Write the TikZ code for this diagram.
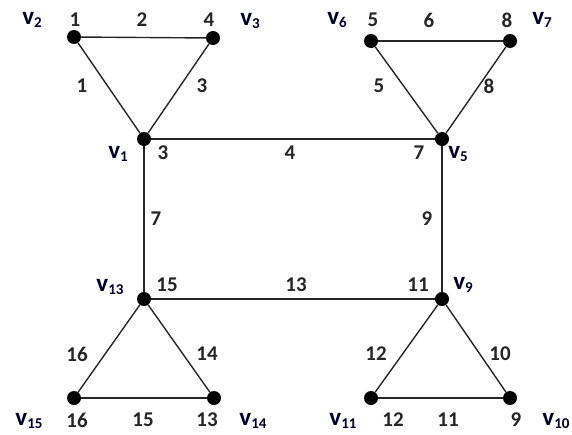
\documentclass[tikz,border=0pt]{standalone}
\usepackage{fontspec}
\setmainfont{Carlito}
\newcommand{\vsub}[2]{v\raisebox{-0.3ex}{\fontsize{15}{17}\selectfont\bfseries #2}}
\begin{document}
\begin{tikzpicture}[x=1pt,y=-1pt,
  vtx/.style={circle,fill=black,inner sep=0pt,minimum size=14pt},
  edge/.style={line width=1.4pt,draw=black!85},
  num/.style={inner sep=0pt,font=\fontsize{21}{24}\selectfont\bfseries,text=black!85},
  vl/.style={inner sep=0pt,font=\fontsize{25}{28}\selectfont\bfseries,text=black!75!blue!60!black}]
\useasboundingbox (0,0) rectangle (572,434);
\fill[white] (0,0) rectangle (572,434);
% vertices
\node[vtx] (v1) at (144,139) {};
\node[vtx] (v2) at (74,37) {};
\node[vtx] (v3) at (213,38) {};
\node[vtx] (v5) at (442,139) {};
\node[vtx] (v6) at (371,41) {};
\node[vtx] (v7) at (510,41) {};
\node[vtx] (v9) at (442,299) {};
\node[vtx] (v10) at (510,398) {};
\node[vtx] (v11) at (371,398) {};
\node[vtx] (v13) at (144,299) {};
\node[vtx] (v14) at (214,398) {};
\node[vtx] (v15) at (74,398) {};
% edges
\draw[edge] (v2) -- (v3);
\draw[edge] (v2) -- (v1);
\draw[edge] (v3) -- (v1);
\draw[edge] (v1) -- (v5);
\draw[edge] (v6) -- (v7);
\draw[edge] (v6) -- (v5);
\draw[edge] (v7) -- (v5);
\draw[edge] (v1) -- (v13);
\draw[edge] (v5) -- (v9);
\draw[edge] (v13) -- (v9);
\draw[edge] (v13) -- (v15);
\draw[edge] (v13) -- (v14);
\draw[edge] (v15) -- (v14);
\draw[edge] (v9) -- (v11);
\draw[edge] (v9) -- (v10);
\draw[edge] (v11) -- (v10);
% vertex names
\node[vl] (lv2) at (32,20) {\vsub{v}{2}};
\node[vl] (lv3) at (250,21) {\vsub{v}{3}};
\node[vl] (lv1) at (118,154) {\vsub{v}{1}};
\node[vl] (lv6) at (337,20) {\vsub{v}{6}};
\node[vl] (lv7) at (542,20) {\vsub{v}{7}};
\node[vl] (lv5) at (458,154) {\vsub{v}{5}};
\node[vl] (lv13) at (110,287) {\vsub{v}{13}};
\node[vl] (lv9) at (463,285) {\vsub{v}{9}};
\node[vl] (lv15) at (29,421) {\vsub{v}{15}};
\node[vl] (lv14) at (253,421) {\vsub{v}{14}};
\node[vl] (lv11) at (343,421) {\vsub{v}{11}};
\node[vl] (lv10) at (556,421) {\vsub{v}{10}};
% vertex numbers
\node[num] (n2) at (75,20) {1};
\node[num] (n3) at (209,20) {4};
\node[num] (n1) at (163,153) {3};
\node[num] (n6) at (373,20) {5};
\node[num] (n7) at (507,20) {8};
\node[num] (n5) at (419,153) {7};
\node[num] (n13) at (167,285) {15};
\node[num] (n9) at (418,285) {11};
\node[num] (n15) at (77,420) {16};
\node[num] (n14) at (207,420) {13};
\node[num] (n11) at (393,420) {12};
\node[num] (n10) at (516,420) {9};
% edge numbers
\node[num] (e2) at (142,20) {2};
\node[num] (e1) at (82,86) {1};
\node[num] (e3) at (202,86) {3};
\node[num] (e4) at (290,153) {4};
\node[num] (e6) at (429,20) {6};
\node[num] (e5) at (379,86) {5};
\node[num] (e8) at (489,86) {8};
\node[num] (e7) at (156,219) {7};
\node[num] (e9) at (427,219) {9};
\node[num] (e13) at (296,285) {13};
\node[num] (e16) at (77,354) {16};
\node[num] (e14) at (207,354) {14};
\node[num] (e15) at (143,420) {15};
\node[num] (e12) at (376,354) {12};
\node[num] (e10) at (500,354) {10};
\node[num] (e11) at (448,420) {11};
\end{tikzpicture}
\end{document}
